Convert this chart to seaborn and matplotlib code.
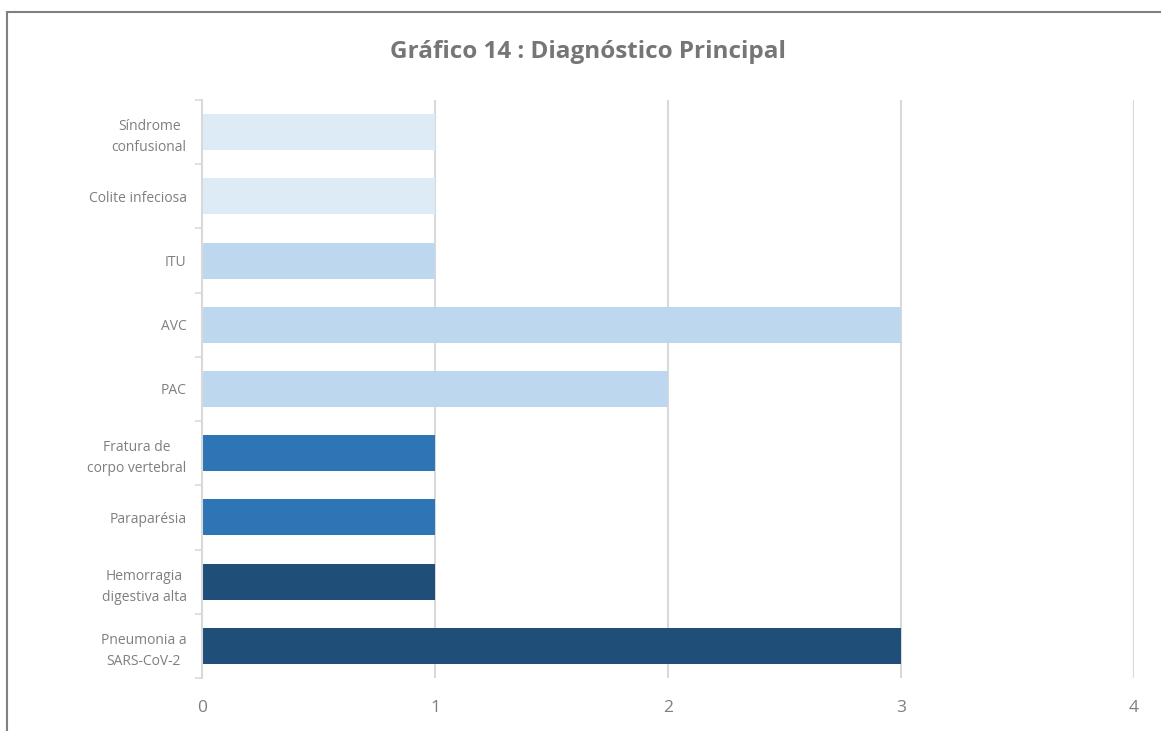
import matplotlib
matplotlib.use("Agg")
import matplotlib.pyplot as plt
import seaborn as sns
import pandas as pd
import numpy as np
from matplotlib.patches import Rectangle

categories = ["Síndrome\nconfusional", "Colite infeciosa", "ITU", "AVC", "PAC",
              "Fratura de\ncorpo vertebral", "Paraparésia", "Hemorragia\ndigestiva alta",
              "Pneumonia a\nSARS-CoV-2"]
values = [1, 1, 1, 3, 2, 1, 1, 1, 3]
colors = ["#DDEBF7", "#DDEBF7", "#BDD7EE", "#BDD7EE", "#BDD7EE",
          "#2E75B6", "#2E75B6", "#1F4E79", "#1F4E79"]
xticks = [0, 1, 2, 3, 4]
title = "Gráfico 14 : Diagnóstico Principal"

sns.set_theme(style="white")
plt.rcParams['font.family'] = ['Open Sans', 'DejaVu Sans']

df = pd.DataFrame({"cat": categories, "val": values})

fig = plt.figure(figsize=(11.61, 7.31), dpi=100)
ax = fig.add_axes([202/1161, 1 - 678/731, (1134-202)/1161, (678-100)/731])

sns.barplot(data=df, y="cat", x="val", hue="cat", palette=colors, orient="h",
            width=0.56, legend=False, ax=ax, saturation=1, linewidth=0)

ax.set_xlim(0, 4)
ax.set_ylim(len(categories) - 0.5, -0.5)
ax.set_xticks(xticks)
ax.set_xticklabels([str(t) for t in xticks], fontsize=12.5, color="#7F7F7F")
ax.tick_params(axis="x", length=0, pad=16)
ax.tick_params(axis="y", length=0, pad=11, labelsize=10, labelcolor="#7F7F7F")
for lab in ax.get_yticklabels():
    lab.set_horizontalalignment("right")
    lab.set_multialignment("center")
    lab.set_linespacing(1.55)
ax.set_yticks(np.arange(-0.5, len(categories), 1), minor=True)
ax.tick_params(axis="y", which="minor", length=5, color="#D9D9D9", width=1.2, left=True)
ax.set_xlabel("")
ax.set_ylabel("")

for t in xticks[1:]:
    ax.axvline(t, color="#D9D9D9", lw=1.5, zorder=0)
for s in ["top", "right", "bottom"]:
    ax.spines[s].set_visible(False)
ax.spines["left"].set_color("#D9D9D9")
ax.spines["left"].set_linewidth(1.5)
ax.set_axisbelow(True)

fig.text(0.5 + 7/1161, 1 - 52/731, title, ha="center", va="center", fontsize=17.5,
         fontweight="bold", color="#767676")

fig.patches.append(Rectangle((7/1161, -0.01), 1.0, 1 - 12/731 + 0.01,
                             transform=fig.transFigure, fill=False,
                             edgecolor="#808080", lw=1.5))

fig.savefig("out.png", dpi=100)
